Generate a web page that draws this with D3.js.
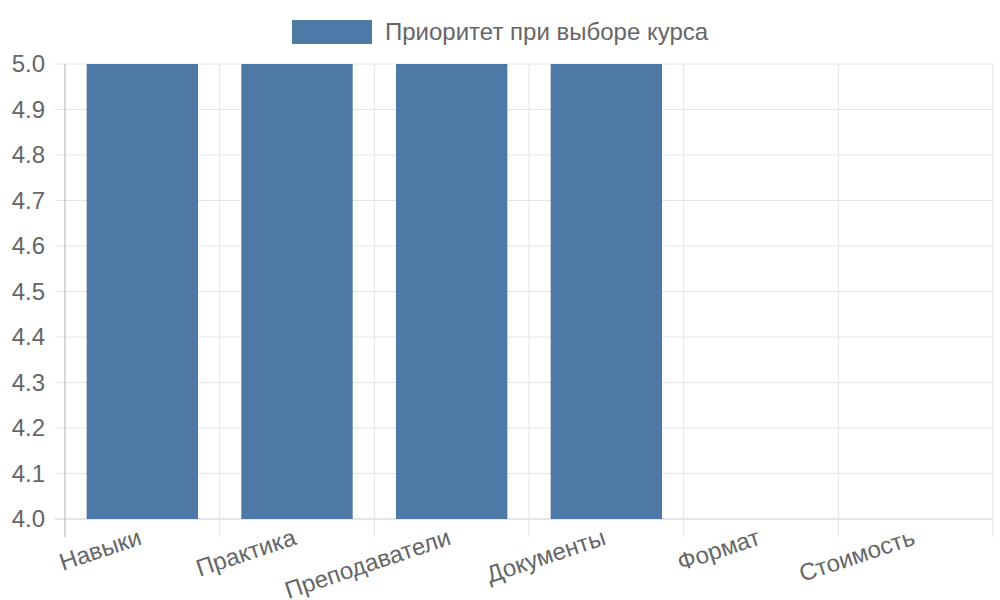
<!DOCTYPE html>
<html>
<head>
<meta charset="utf-8">
<script src="https://cdn.jsdelivr.net/npm/d3@7"></script>
<style>
  body { margin: 0; background: #fff; }
  text { font-family: "Liberation Sans", Arial, sans-serif; fill: #666; }
</style>
</head>
<body>
<div id="chart"></div>
<script>
var categories = ['Навыки', 'Практика', 'Преподаватели', 'Документы', 'Формат', 'Стоимость'];
var values = [5, 5, 5, 5, 4, 4];
var seriesName = 'Приоритет при выборе курса';
var yTicks = [4.0, 4.1, 4.2, 4.3, 4.4, 4.5, 4.6, 4.7, 4.8, 4.9, 5.0];

var w = 1000;
var h = 600;
var plotLeft = 65, plotRight = 993, plotTop = 64, plotBottom = 519;
var barColor = '#4e79a7';

var svg = d3.select('#chart').append('svg')
  .attr('width', w)
  .attr('height', h);

var x = d3.scaleBand().domain(categories).range([plotLeft, plotRight]).paddingInner(0).paddingOuter(0);
var y = d3.scaleLinear().domain([4, 5]).range([plotBottom, plotTop]);

// horizontal grid + y ticks
svg.selectAll('.hgrid')
  .data(yTicks)
  .enter()
  .append('line')
  .attr('x1', plotLeft - 10)
  .attr('x2', plotRight)
  .attr('y1', function (d) { return y(d); })
  .attr('y2', function (d) { return y(d); })
  .attr('stroke', function (d) { return d === 4 ? '#cccccc' : '#e4e4e4'; })
  .attr('stroke-width', 1);

// vertical grid lines at category edges
var edges = categories.map(function (d) { return x(d); }).concat([plotRight]);
svg.selectAll('.vgrid')
  .data(edges)
  .enter()
  .append('line')
  .attr('x1', function (d) { return d; })
  .attr('x2', function (d) { return d; })
  .attr('y1', plotTop)
  .attr('y2', plotBottom + 18)
  .attr('stroke', function (d, i) { return i === 0 ? '#b0b0b0' : '#e4e4e4'; })
  .attr('stroke-width', 1);

// bars (clip to plot area)
svg.append('clipPath').attr('id', 'plot')
  .append('rect').attr('x', plotLeft).attr('y', plotTop)
  .attr('width', plotRight - plotLeft).attr('height', plotBottom - plotTop);

var bw = x.bandwidth() * 0.72;
svg.append('g').attr('clip-path', 'url(#plot)')
  .selectAll('.bar')
  .data(categories)
  .enter()
  .append('rect')
  .attr('class', 'bar')
  .attr('x', function (d) { return x(d) + (x.bandwidth() - bw) / 2; })
  .attr('y', function (d, i) { return y(values[i]); })
  .attr('width', bw)
  .attr('height', function (d, i) { return y(4) - y(values[i]); })
  .attr('fill', barColor);

// y labels
svg.selectAll('.ylab')
  .data(yTicks)
  .enter()
  .append('text')
  .text(function (d) { return d.toFixed(1); })
  .attr('x', 45)
  .attr('y', function (d) { return y(d); })
  .attr('dy', '0.35em')
  .attr('text-anchor', 'end')
  .attr('font-size', '24px');

// x labels, rotated
svg.selectAll('.xlab')
  .data(categories)
  .enter()
  .append('text')
  .text(function (d) { return d; })
  .attr('text-anchor', 'end')
  .attr('font-size', '24px')
  .attr('transform', function (d) {
    return 'translate(' + (x(d) + x.bandwidth() / 2 - 2) + ',' + 536 + ') rotate(-18.5)';
  })
  .attr('dy', '0.35em');

// legend
svg.append('rect')
  .attr('x', 292).attr('y', 20).attr('width', 80).attr('height', 24)
  .attr('fill', barColor);
svg.append('text')
  .text(seriesName)
  .attr('x', 385).attr('y', 32).attr('dy', '0.35em')
  .attr('font-size', '24px');
</script>
</body>
</html>
